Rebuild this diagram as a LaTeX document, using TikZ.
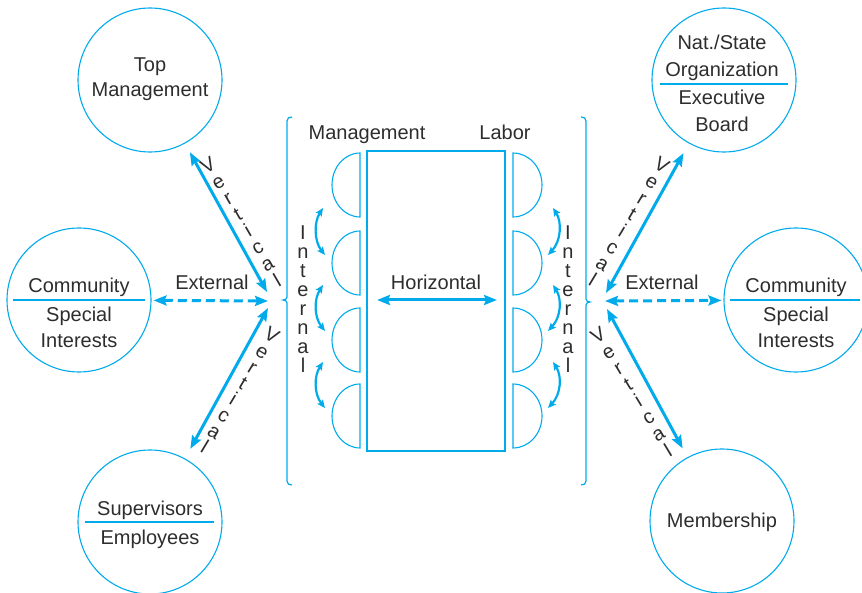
\documentclass[tikz,border=0pt]{standalone}
\usepackage{fontspec}
\setmainfont{Liberation Sans}
\usetikzlibrary{arrows.meta,calc}
\definecolor{cy}{RGB}{0,170,235}
\definecolor{tx}{RGB}{45,45,45}
\begin{document}
\begin{tikzpicture}[x=1pt,y=-1pt,
  lbl/.style={font=\fontsize{20}{24}\selectfont, text=tx, inner sep=0pt, text height=14pt, text depth=0pt},
  circ/.style={draw=cy, line width=1.1pt, circle, minimum size=144pt, inner sep=0pt},
  divline/.style={cy, line width=1.1pt},
  bigarrow/.style={cy, line width=3pt, {Stealth[length=13pt,width=10pt,inset=2pt]}-{Stealth[length=13pt,width=10pt,inset=2pt]}},
  dasharrow/.style={bigarrow, dash pattern=on 9pt off 5pt},
  smallarrow/.style={cy, line width=2.2pt, {Stealth[length=8pt,width=7pt,inset=1.5pt]}-{Stealth[length=8pt,width=7pt,inset=1.5pt]}},
  chair/.style={cy, line width=1.1pt},
  brace/.style={cy, line width=1.2pt},
  table/.style={draw=cy, line width=1.2pt},
]
\useasboundingbox (0,0) rectangle (862,593);
\clip (0,0) rectangle (862,593);

% circles
\node[circ] (topm) at (150,80) {};
\node[circ] (comL) at (79,300) {};
\node[circ] (supv) at (150,522) {};
\node[circ] (nat) at (724,80) {};
\node[circ] (comR) at (796,300) {};
\node[circ] (memb) at (722,521) {};

% circle texts
\node[lbl] (t1) at (150,65) {Top};
\node[lbl] (t2) at (150,90) {Management};
\node[lbl] (c1) at (79,286) {Community};
\draw[divline] (13,300) -- (145,300);
\node[lbl] (c2) at (79,315) {Special};
\node[lbl] (c3) at (79,341) {Interests};
\node[lbl] (s1) at (150,508) {Supervisors};
\draw[divline] (85,522) -- (214,522);
\node[lbl] (s2) at (150,537) {Employees};
\node[lbl] (n1) at (722,43) {Nat./State};
\node[lbl] (n2) at (722,70) {Organization};
\draw[divline] (660,84) -- (788,84);
\node[lbl] (n3) at (722,98) {Executive};
\node[lbl] (n4) at (722,125) {Board};
\node[lbl] (r1) at (796,286) {Community};
\draw[divline] (730,300) -- (860,300);
\node[lbl] (r2) at (796,315) {Special};
\node[lbl] (r3) at (796,341) {Interests};
\node[lbl] (m1) at (722,520) {Membership};

% braces
\draw[brace] (292,117) .. controls (289,117) and (287,118) .. (287,121) -- (287,297)
  .. controls (287,299) and (285,300) .. (283,300) .. controls (285,300) and (287,301) .. (287,303)
  -- (287,481) .. controls (287,484) and (289,485) .. (292,485);
\draw[brace] (581,117) .. controls (584,117) and (586,118) .. (586,121) -- (586,299)
  .. controls (586,301) and (588,302) .. (590,302) .. controls (588,302) and (586,303) .. (586,305)
  -- (586,481) .. controls (586,484) and (584,485) .. (581,485);

% table
\node[table, minimum width=138pt, minimum height=300pt, inner sep=0pt] (tbl) at (436,301) {};
\node[lbl] (mg) at (367,133) {Management};
\node[lbl] (lb) at (505,133) {Labor};
\node[lbl] (hz) at (436,283) {Horizontal};
\coordinate (hzL) at (377,300);
\coordinate (hzR) at (497,300);
\draw[bigarrow] (hzL) -- (hzR);

% chairs
\foreach \yc in {185,263,340,416}{
  \draw[chair] (360,\yc-32) arc[start angle=270, end angle=90, x radius=28, y radius=32] -- cycle;
  \draw[chair] (513,\yc-32) arc[start angle=-90, end angle=90, x radius=29, y radius=32] -- cycle;
}

% internal arrows
\foreach \ya/\yb [count=\k] in {208/255,285/331,362/408}{
  \coordinate (lia\k) at (323,\ya);
  \coordinate (lib\k) at (325,\yb);
  \draw[smallarrow] (lia\k) .. controls (314,\ya+14) and (314,\yb-14) .. (lib\k);
  \coordinate (ria\k) at (553,\ya);
  \coordinate (rib\k) at (548,\yb);
  \draw[smallarrow] (ria\k) .. controls (562,\ya+14) and (561,\yb-14) .. (rib\k);
}

% Internal labels
\foreach \ch [count=\k from 0] in {I,n,t,e,r,n,a,l}{
  \node[lbl] (il\k) at (303,{233+\k*18.9}) {\ch};
  \node[lbl] (ir\k) at (568,{233+\k*18.9}) {\ch};
}

% hubs
\coordinate (hubLt) at (267,292);
\coordinate (hubLm) at (268,301);
\coordinate (hubLb) at (268,308);
\coordinate (hubRt) at (606,293);
\coordinate (hubRm) at (605,301);
\coordinate (hubRb) at (607,309);

\draw[bigarrow, shorten <=10pt] (topm) -- (hubLt);
\draw[bigarrow, shorten >=11pt] (hubLb) -- (supv);
\draw[dasharrow, shorten <=2pt] (comL) -- (hubLm);
\draw[bigarrow, shorten <=11pt] (nat) -- (hubRt);
\draw[bigarrow, shorten >=10pt] (hubRb) -- (memb);
\draw[dasharrow, shorten >=2pt] (hubRm) -- (comR);

\node[lbl] (exL) at (212,283) {External};
\node[lbl] (exR) at (662,283) {External};

% Vertical labels (stacked letters along the arrows)
\foreach \ch [count=\k from 0] in {V,e,r,t,i,c,a,l}{
  \node[lbl, rotate=30] (vtl\k) at ($(208,165)!{\k/7}!(277,280)$) {\ch};
  \node[lbl, rotate=-31] (vbl\k) at ($(272,335)!{\k/7}!(205,447)$) {\ch};
  \node[lbl, rotate=-31] (vtr\k) at ($(662,165)!{\k/7}!(593,280)$) {\ch};
  \node[lbl, rotate=31] (vbr\k) at ($(598,335)!{\k/7}!(668,450)$) {\ch};
}
\end{tikzpicture}
\end{document}
